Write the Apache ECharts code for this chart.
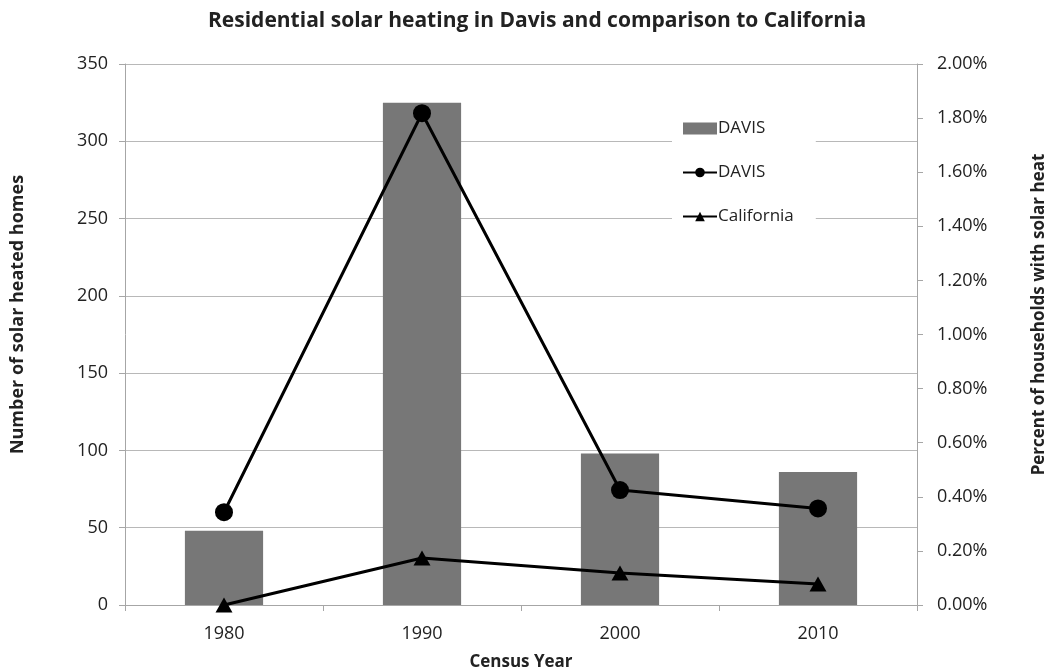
<!DOCTYPE html>
<html>
<head>
<meta charset="utf-8">
<script src="https://cdn.jsdelivr.net/npm/echarts@6/dist/echarts.min.js"></script>
<style>
  html, body { margin: 0; padding: 0; background: #ffffff; }
  #chart { width: 1048px; height: 671px; }
</style>
</head>
<body>
<div id="chart"></div>
<script>
// Census years
const years = ['1980', '1990', '2000', '2010'];
// Number of solar heated homes in Davis
const davisHomes = [48, 325, 98, 86];
// Percent of households with solar heat
const davisPercent = [0.343, 1.818, 0.425, 0.357];
const californiaPercent = [0.0, 0.174, 0.118, 0.078];

const FONT = '"Open Sans", Lato, sans-serif';
const AXIS_GREY = '#a6a6a6';
const TEXT = '#222222';

const chart = echarts.init(document.getElementById('chart'));
chart.setOption({
  backgroundColor: '#ffffff',
  animation: false,
  title: {
    text: 'Residential solar heating in Davis and comparison to California',
    left: 203,
    top: 6,
    textStyle: { fontFamily: FONT, fontSize: 21, fontWeight: 'bold', color: TEXT }
  },
  grid: { left: 125, right: 131, top: 64, bottom: 66, outerBoundsMode: 'none', containLabel: false },
  legend: {
    orient: 'vertical',
    left: 672,
    top: 112,
    padding: [8, 22, 8, 10],
    itemGap: 27,
    itemWidth: 34,
    itemHeight: 12,
    backgroundColor: '#ffffff',
    textStyle: { fontFamily: FONT, fontSize: 17, color: TEXT, padding: [0, 0, 0, -4] },
    formatter: name => (name.indexOf('DAVIS') === 0 ? 'DAVIS' : name),
    data: [
      { name: 'DAVIS homes', icon: 'rect' },
      { name: 'DAVIS percent' },
      { name: 'California' }
    ]
  },
  xAxis: {
    type: 'category',
    data: years,
    boundaryGap: true,
    name: 'Census Year',
    nameLocation: 'middle',
    nameGap: 49,
    nameTextStyle: { fontFamily: FONT, fontSize: 17, fontWeight: 'bold', color: TEXT },
    axisLine: { lineStyle: { color: AXIS_GREY, width: 1 } },
    axisTick: { show: true, alignWithLabel: false, length: 6, lineStyle: { color: AXIS_GREY } },
    axisLabel: { fontFamily: FONT, fontSize: 18, color: TEXT, margin: 20 }
  },
  yAxis: [
    {
      type: 'value',
      min: 0, max: 350, interval: 50,
      position: 'left',
      name: 'Number of solar heated homes',
      nameLocation: 'middle',
      nameGap: 98,
      nameRotate: 90,
      nameTextStyle: { fontFamily: FONT, fontSize: 18, fontWeight: 'bold', color: TEXT, padding: [0, 0, 0, 40] },
      axisLine: { show: true, lineStyle: { color: AXIS_GREY } },
      axisTick: { show: true, length: 6, lineStyle: { color: AXIS_GREY } },
      axisLabel: { fontFamily: FONT, fontSize: 18, color: TEXT, margin: 17 },
      splitLine: { show: true, lineStyle: { color: '#b8b8b8', width: 1 } }
    },
    {
      type: 'value',
      min: 0, max: 2, interval: 0.2,
      position: 'right',
      name: 'Percent of households with solar heat',
      nameLocation: 'middle',
      nameGap: 114,
      nameRotate: 90,
      nameTextStyle: { fontFamily: FONT, fontSize: 17, fontWeight: 'bold', color: TEXT, padding: [0, 0, 0, 40] },
      axisLine: { show: true, lineStyle: { color: AXIS_GREY } },
      axisTick: { show: true, length: 6, lineStyle: { color: AXIS_GREY } },
      axisLabel: {
        fontFamily: FONT, fontSize: 18, color: TEXT, margin: 20,
        formatter: v => v.toFixed(2) + '%'
      },
      splitLine: { show: false }
    }
  ],
  series: [
    {
      name: 'DAVIS homes',
      type: 'bar',
      yAxisIndex: 0,
      data: davisHomes,
      barWidth: '39.5%',
      itemStyle: { color: '#777777' },
      z: 1
    },
    {
      name: 'DAVIS percent',
      type: 'line',
      yAxisIndex: 1,
      data: davisPercent,
      symbol: 'circle',
      symbolSize: 18,
      lineStyle: { color: '#000000', width: 3 },
      itemStyle: { color: '#000000' },
      z: 3
    },
    {
      name: 'California',
      type: 'line',
      yAxisIndex: 1,
      data: californiaPercent,
      symbol: 'triangle',
      symbolSize: [17, 15],
      lineStyle: { color: '#000000', width: 3 },
      itemStyle: { color: '#000000' },
      z: 3
    }
  ]
});
</script>
</body>
</html>
